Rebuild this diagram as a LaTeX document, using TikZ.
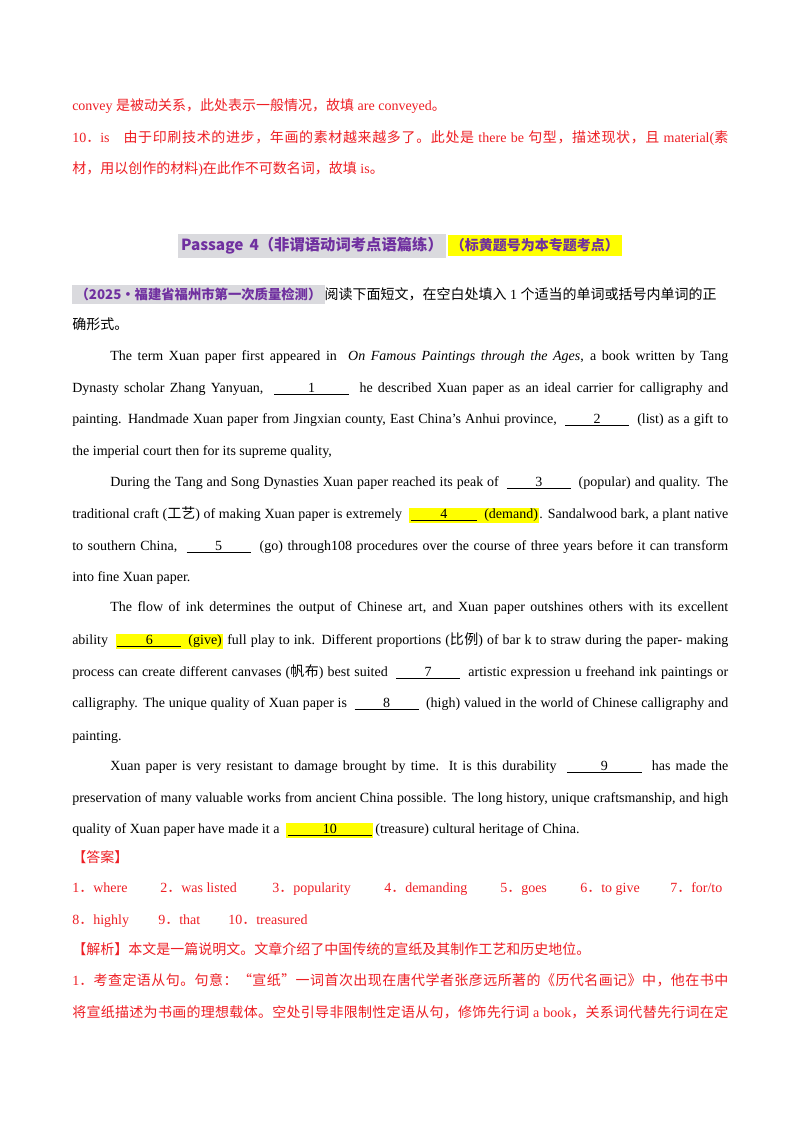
\documentclass[tikz,border=0pt]{standalone}
\usepackage{fontspec}
\setmainfont{Liberation Serif}
\newfontfamily\latf{Liberation Serif}
\newfontfamily\cjkf{Noto Sans CJK SC}
\newcommand{\cjkb}{\XeTeXinterchartokenstate=0\relax\cjkf\bfseries}
\definecolor{ansred}{RGB}{238,30,36}
\definecolor{ppl}{RGB}{112,48,160}
\definecolor{hgray}{RGB}{218,218,222}
\definecolor{hyel}{RGB}{255,255,0}
\newXeTeXintercharclass\cjkcls
\count255="4E00 \loop \XeTeXcharclass\count255=\cjkcls \advance\count255 1 \ifnum\count255<"A000 \repeat
\count255="3000 \loop \XeTeXcharclass\count255=\cjkcls \advance\count255 1 \ifnum\count255<"3040 \repeat
\count255="FF00 \loop \XeTeXcharclass\count255=\cjkcls \advance\count255 1 \ifnum\count255<"FFF0 \repeat
\XeTeXcharclass"201C=\cjkcls \XeTeXcharclass"201D=\cjkcls \XeTeXcharclass"00B7=\cjkcls
\XeTeXinterchartoks 0 \cjkcls = {\cjkf}
\XeTeXinterchartoks 4095 \cjkcls = {\cjkf}
\XeTeXinterchartoks \cjkcls 0 = {\latf}
\XeTeXinterchartoks \cjkcls 4095 = {\latf}
\XeTeXinterchartoks \cjkcls \cjkcls = {\hskip0pt plus 1pt\relax}
\newcommand{\J}[1]{\hbox to 492pt{#1}}
\newcommand{\JI}[1]{\hbox to 463.5pt{#1}}
\newcommand{\bl}[2]{\underline{\makebox[#1pt]{#2}}}
\newcommand{\hy}[1]{{\fboxsep=1pt\colorbox{hyel}{#1}}}
\tikzset{ln/.style={anchor=west,inner sep=0pt,text height=8pt,text depth=2.5pt,font=\fontsize{10.5pt}{12pt}\selectfont},
 rd/.style={ln,text=ansred}}
\begin{document}
\XeTeXinterchartokenstate=1
\begin{tikzpicture}[x=0.75pt,y=-0.75pt]
\useasboundingbox (0,0) rectangle (800,1132);
\fill[white] (0,0) rectangle (800,1132);
\node[rd] (a1) at (72,107) {convey 是被动关系，此处表示一般情况，故填 are conveyed。};
\node[rd] (a2) at (72,139) {\J{10．is\quad 由于印刷技术的进步，年画的素材越来越多了。此处是 there be 句型，描述现状，且 material(素}};
\node[rd] (a3) at (72,170) {材，用以创作的材料)在此作不可数名词，故填 is。};
\node[inner sep=0pt] (t) at (400,246) {\cjkb\fontsize{11.5pt}{13pt}\selectfont\fboxsep=2.5pt\textcolor{ppl}{\colorbox{hgray}{Passage\, 4（非谓语动词考点语篇练）}\hspace{1pt}\colorbox{hyel}{\fontsize{10.5pt}{12pt}\selectfont（标黄题号为本专题考点）}}};
\node[ln] (s1) at (72,296) {{\cjkb\fontsize{10pt}{12pt}\selectfont\fboxsep=2.5pt\textcolor{ppl}{\colorbox{hgray}{（2025·福建省福州市第一次质量检测）}}}阅读下面短文，在空白处填入 1 个适当的单词或括号内单词的正};
\node[ln] (s2) at (72,326) {确形式。};
\node[ln] (p1) at (110,357) {\JI{The term Xuan paper first appeared in \ \textit{On Famous Paintings through the Ages}, a book written by Tang}};
\node[ln] (p2) at (72,389) {\J{Dynasty scholar Zhang Yanyuan, \ \bl{56}{1} \ he described Xuan paper as an ideal carrier for calligraphy and}};
\node[ln] (p3) at (72,420) {\J{painting. Handmade Xuan paper from Jingxian county, East China’s Anhui province, \ \bl{48}{2} \ (list) as a gift to}};
\node[ln] (p4) at (72,452) {the imperial court then for its supreme quality,};
\node[ln] (q1) at (110,483) {\JI{During the Tang and Song Dynasties Xuan paper reached its peak of \ \bl{48}{3} \ (popular) and quality. The}};
\node[ln] (q2) at (72,515) {\J{traditional craft (工艺) of making Xuan paper is extremely \ \hy{\bl{50}{4} \ (demand)}. Sandalwood bark, a plant native}};
\node[ln] (q3) at (72,547) {\J{to southern China, \ \bl{48}{5} \ (go) through108 procedures over the course of three years before it can transform}};
\node[ln] (q4) at (72,578) {into fine Xuan paper.};
\node[ln] (r1) at (110,608) {\JI{The flow of ink determines the output of Chinese art, and Xuan paper outshines others with its excellent}};
\node[ln] (r2) at (72,641) {\J{ability \ \hy{\bl{48}{6} \ (give)} full play to ink. Different proportions (比例) of bar k to straw during the paper- making}};
\node[ln] (r3) at (72,673) {\J{process can create different canvases (帆布) best suited \ \bl{48}{7} \ artistic expression u freehand ink paintings or}};
\node[ln] (r4) at (72,704) {\J{calligraphy. The unique quality of Xuan paper is \ \bl{48}{8} \ (high) valued in the world of Chinese calligraphy and}};
\node[ln] (r5) at (72,737) {painting.};
\node[ln] (u1) at (110,767) {\JI{Xuan paper is very resistant to damage brought by time. It is this durability \ \bl{56}{9} \ has made the}};
\node[ln] (u2) at (72,799) {\J{preservation of many valuable works from ancient China possible. The long history, unique craftsmanship, and high}};
\node[ln] (u3) at (72,830) {quality of Xuan paper have made it a \ \hy{\bl{63}{10}}\,(treasure) cultural heritage of China.};
\node[rd] (d0) at (72,859) {【答案】};
\node[rd] (d1) at (72,889) {1．where};
\node[rd] (d2) at (160,889) {2．was listed};
\node[rd] (d3) at (272,889) {3．popularity};
\node[rd] (d4) at (384,889) {4．demanding};
\node[rd] (d5) at (500,889) {5．goes};
\node[rd] (d6) at (580,889) {6．to give};
\node[rd] (d7) at (670,889) {7．for/to};
\node[rd] (d8) at (72,921) {8．highly};
\node[rd] (d9) at (158,921) {9．that};
\node[rd] (d10) at (228,921) {10．treasured};
\node[rd] (e0) at (72,951) {【解析】本文是一篇说明文。文章介绍了中国传统的宣纸及其制作工艺和历史地位。};
\node[rd] (e1) at (72,982) {\J{1．考查定语从句。句意：“宣纸”一词首次出现在唐代学者张彦远所著的《历代名画记》中，他在书中}};
\node[rd] (e2) at (72,1014) {\J{将宣纸描述为书画的理想载体。空处引导非限制性定语从句，修饰先行词 a book，关系词代替先行词在定}};
\end{tikzpicture}
\end{document}
